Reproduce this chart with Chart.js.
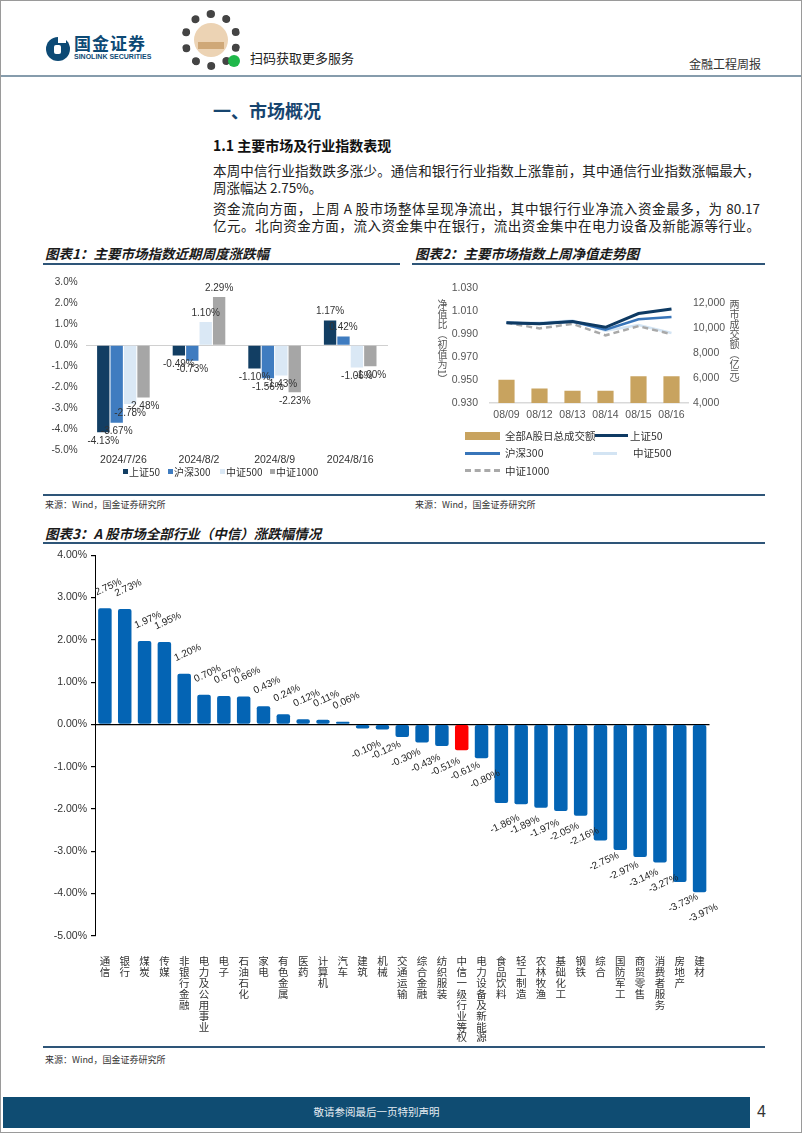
<!DOCTYPE html>
<html>
<head>
<meta charset="utf-8">
<script src="https://cdn.jsdelivr.net/npm/chart.js@4.4.1/dist/chart.umd.min.js"></script>
<style>
html,body{margin:0;padding:0;background:#fff;}
#page{position:relative;width:802px;height:1133px;overflow:hidden;font-family:'Noto Sans CJK SC',sans-serif;color:#222;}
.abs{position:absolute;white-space:nowrap;}
.frame{position:absolute;left:0;top:0;width:800px;height:1131px;border:1px solid #9a9a9a;pointer-events:none;}
.para{position:absolute;left:213px;width:547px;font-size:13.5px;line-height:17px;height:17px;white-space:nowrap;color:#222;}
.just{text-align:justify;text-align-last:justify;}
.ctitle{position:absolute;font-size:13.5px;font-weight:bold;font-style:italic;line-height:18px;color:#1a1a1a;white-space:nowrap;}
.rule{position:absolute;height:2px;background:#2e5578;}
.src{position:absolute;font-size:9px;line-height:12px;color:#333;white-space:nowrap;}
.lg{position:absolute;font-size:10.5px;line-height:14px;color:#333;white-space:nowrap;}
.lg1{position:absolute;font-size:10px;line-height:13px;color:#333;white-space:nowrap;}
.box1{position:absolute;width:5px;height:5px;}
.vt{position:absolute;writing-mode:vertical-rl;font-size:10px;line-height:12px;color:#555;}
canvas{position:absolute;}
</style>
</head>
<body>
<div id="page">
  <!-- header -->
  <svg class="abs" style="left:45px;top:36px" width="26" height="26" viewBox="0 0 26 26">
    <circle cx="13" cy="13" r="12" fill="#0d4a75"/>
    <rect x="13" y="0" width="8" height="7" fill="#fff"/>
    <rect x="9" y="9" width="7" height="9" rx="2" fill="#fff"/>
  </svg>
  <div class="abs" style="left:74px;top:33px;font-size:17px;font-weight:bold;color:#0d4a75;letter-spacing:1px;line-height:20px">国金证券</div>
  <div class="abs" style="left:74px;top:52px;font-size:7px;font-weight:bold;color:#0d4a75;font-family:'Liberation Sans',sans-serif;line-height:9px">SINOLINK SECURITIES</div>
  <div class="abs" style="left:181px;top:10px;width:44px;height:44px;border-radius:50%;border:8px dotted #444;"></div>
  <div class="abs" style="left:194px;top:23px;width:34px;height:34px;border-radius:50%;background:#ecd3b4;"></div>
  <div class="abs" style="left:198px;top:42px;width:26px;height:7px;background:#cfa878;"></div>
  <div class="abs" style="left:228px;top:55px;width:12px;height:12px;border-radius:50%;background:#1fb84a;"></div>
  <div class="abs" style="left:250px;top:49px;font-size:13px;line-height:17px;color:#222">扫码获取更多服务</div>
  <div class="abs" style="left:689px;top:56px;font-size:12px;line-height:15px;color:#333">金融工程周报</div>
  <div class="abs" style="left:0;top:75px;width:802px;height:2px;background:#869cac"></div>

  <div class="abs" style="left:213px;top:98px;font-size:18px;font-weight:bold;line-height:24px;color:#17456f">一、市场概况</div>
  <div class="abs" style="left:213px;top:136px;font-size:14px;font-weight:bold;line-height:18px;color:#111">1.1 主要市场及行业指数表现</div>
  <div class="para just" style="top:161.5px">本周中信行业指数跌多涨少。通信和银行行业指数上涨靠前，其中通信行业指数涨幅最大，</div>
  <div class="para" style="top:178.5px">周涨幅达 2.75%。</div>
  <div class="para just" style="top:199.5px">资金流向方面，上周 A 股市场整体呈现净流出，其中银行行业净流入资金最多，为 80.17</div>
  <div class="para just" style="top:216.5px">亿元。北向资金方面，流入资金集中在银行，流出资金集中在电力设备及新能源等行业。</div>

  <!-- chart titles -->
  <div class="ctitle" style="left:45px;top:244px">图表1：主要市场指数近期周度涨跌幅</div>
  <div class="rule" style="left:43px;top:263px;width:357px"></div>
  <div class="ctitle" style="left:415px;top:244px">图表2：主要市场指数上周净值走势图</div>
  <div class="rule" style="left:412px;top:263px;width:353px"></div>

  <canvas id="c1" width="360" height="200" style="left:40px;top:268px"></canvas>
  <div id="legend1"></div>
  <canvas id="c2" width="360" height="155" style="left:410px;top:270px"></canvas>

  <div class="vt" style="left:436px;top:299px">净值比（初值为1）</div>
  <div class="vt" style="left:728px;top:299px">两市成交额（亿元）</div>

  <!-- chart 2 legend -->
  <div class="abs" style="left:465px;top:432px;width:35px;height:8px;background:#c8a35f"></div>
  <div class="lg" style="left:505px;top:429px">全部A股日总成交额</div>
  <div class="abs" style="left:595px;top:434px;width:33px;height:3px;background:#0e3a63"></div>
  <div class="lg" style="left:630px;top:429px">上证50</div>
  <div class="abs" style="left:465px;top:452px;width:35px;height:3px;background:#3875b9"></div>
  <div class="lg" style="left:505px;top:446px">沪深300</div>
  <div class="abs" style="left:593px;top:452px;width:24px;height:3px;background:#d3e4f3"></div>
  <div class="lg" style="left:633px;top:446px">中证500</div>
  <div class="abs" style="left:465px;top:469px;width:35px;height:0;border-top:3px dashed #a9a9a9"></div>
  <div class="lg" style="left:505px;top:464px">中证1000</div>

  <div class="abs" style="left:43px;top:494px;width:722px;height:2px;background:#2e5578"></div>
  <div class="src" style="left:45px;top:499px">来源：Wind，国金证券研究所</div>
  <div class="src" style="left:415px;top:499px">来源：Wind，国金证券研究所</div>

  <div class="ctitle" style="left:45px;top:524px">图表3：A 股市场全部行业（中信）涨跌幅情况</div>
  <div class="rule" style="left:43px;top:542px;width:722px"></div>

  <div class="rule" style="left:43px;top:1046px;width:722px"></div>
  <canvas id="c3" width="730" height="503" style="left:40px;top:545px"></canvas>
  <div class="src" style="left:45px;top:1054px">来源：Wind，国金证券研究所</div>

  <div class="abs" style="left:3px;top:1097px;width:747px;height:31px;background:#0f4c72"></div>
  <div class="abs" style="left:3px;top:1105px;width:747px;text-align:center;font-size:10.5px;line-height:14px;color:#e6edf2">敬请参阅最后一页特别声明</div>
  <div class="abs" style="left:757px;top:1102px;font-size:16px;line-height:20px;color:#333;font-family:'Liberation Sans',sans-serif">4</div>
  <div class="frame"></div>
</div>

<script>
// ---------- data ----------
const weeks = ['2024/7/26', '2024/8/2', '2024/8/9', '2024/8/16'];
const weekSeries = ['上证50', '沪深300', '中证500', '中证1000'];
const sz50Week = [-4.13, -0.49, -1.10, 1.17];
const hs300Week = [-3.67, -0.73, -1.56, 0.42];
const zz500Week = [-2.78, 1.10, -1.43, -1.06];
const zz1000Week = [-2.48, 2.29, -2.23, -1.00];

const days = ['08/09', '08/12', '08/13', '08/14', '08/15', '08/16'];
const turnover = [5850, 5150, 4970, 4970, 6130, 6130];
const nav50 = [1.000, 0.999, 1.001, 0.996, 1.008, 1.012];
const nav300 = [1.000, 0.999, 1.001, 0.994, 1.003, 1.005];
const nav500 = [1.000, 1.000, 1.002, 0.993, 0.998, 0.991];
const nav1000 = [1.000, 0.995, 0.999, 0.989, 0.997, 0.990];
const turnoverTicks = [4000, 6000, 8000, 10000, 12000];

const industries = ['通信', '银行', '煤炭', '传媒', '非银行金融', '电力及公用事业', '电子', '石油石化', '家电', '有色金属', '医药', '计算机', '汽车', '建筑', '机械', '交通运输', '综合金融', '纺织服装', '中信一级行业等权', '电力设备及新能源', '食品饮料', '轻工制造', '农林牧渔', '基础化工', '钢铁', '综合', '国防军工', '商贸零售', '消费者服务', '房地产', '建材'];
const industryChange = [2.75, 2.73, 1.97, 1.95, 1.20, 0.70, 0.67, 0.66, 0.43, 0.24, 0.12, 0.11, 0.06, -0.10, -0.12, -0.30, -0.43, -0.51, -0.61, -0.80, -1.86, -1.89, -1.97, -2.05, -2.16, -2.75, -2.97, -3.14, -3.27, -3.73, -3.97];
const benchmarkName = '中信一级行业等权';

// ---------- helpers ----------
Chart.defaults.font.family = "'Liberation Sans','Noto Sans CJK SC',sans-serif";
Chart.defaults.animation = false;

function makeBarLabels(cfg) {
  return {
    id: 'barLabels' + cfg.key,
    afterDatasetsDraw(chart) {
      const ctx = chart.ctx;
      chart.data.datasets.forEach((ds, di) => {
        const meta = chart.getDatasetMeta(di);
        if (meta.type !== 'bar' || meta.hidden) return;
        meta.data.forEach((el, i) => {
          const v = ds.data[i];
          const neg = v < 0;
          ctx.save();
          ctx.translate(el.x + cfg.dx, el.y + (neg ? cfg.offset : -cfg.offset));
          ctx.rotate(cfg.rotation * Math.PI / 180);
          ctx.font = cfg.font;
          ctx.fillStyle = cfg.color;
          ctx.textAlign = 'center';
          ctx.textBaseline = 'middle';
          ctx.fillText(v.toFixed(2) + '%', 0, 0);
          ctx.restore();
        });
      });
    }
  };
}

// ---------- chart 1 ----------
const weekColors = ['#123e63', '#3f7cc0', '#dae8f5', '#a6a6a6'];
const weekData = [sz50Week, hs300Week, zz500Week, zz1000Week];
new Chart(document.getElementById('c1'), {
  type: 'bar',
  data: {
    labels: weeks,
    datasets: weekSeries.map((name, k) => ({ label: name, data: weekData[k], backgroundColor: weekColors[k] }))
  },
  options: {
    responsive: false,
    layout: { padding: { top: 12.5, right: 12, left: 0, bottom: 0 } },
    datasets: { bar: { categoryPercentage: 0.71, barPercentage: 0.92, borderWidth: 0 } },
    plugins: { tooltip: { enabled: false }, legend: { display: false } },
    scales: {
      x: {
        grid: { display: false, drawTicks: false },
        border: { display: false },
        ticks: { padding: 3.3, color: '#333', font: { size: 10.5 }, maxRotation: 0 },
        afterFit: s => { s.height = 17.3; }
      },
      y: {
        min: -5, max: 3,
        ticks: { stepSize: 1, padding: 8, color: '#404040', font: { size: 10 }, callback: v => v.toFixed(1) + '%' },
        grid: { drawTicks: false, color: c => c.tick.value === 0 ? '#d0d0d0' : 'transparent' },
        border: { display: false },
        afterFit: s => { s.width = 45.6; }
      }
    }
  },
  plugins: [makeBarLabels({ key: 1, dx: 0, offset: 9, rotation: 0, font: "10px 'Liberation Sans','Noto Sans CJK SC',sans-serif", color: '#333' })]
});
// HTML legend for chart 1 (built from the series names/colours)
const legendX1 = [123, 168, 220, 270];
const lg1 = document.getElementById('legend1');
weekSeries.forEach((name, k) => {
  const b = document.createElement('div');
  b.className = 'box1';
  b.style.left = legendX1[k] + 'px'; b.style.top = '469px'; b.style.background = weekColors[k];
  const t = document.createElement('div');
  t.className = 'lg1';
  t.style.left = (legendX1[k] + 6) + 'px'; t.style.top = '465px';
  t.textContent = name;
  lg1.appendChild(b); lg1.appendChild(t);
});

// ---------- chart 2 ----------
new Chart(document.getElementById('c2'), {
  data: {
    labels: days,
    datasets: [
      { type: 'line', label: '上证50', data: nav50, borderColor: '#0e3a63', borderWidth: 3, pointRadius: 0, tension: 0, yAxisID: 'y', order: 1 },
      { type: 'line', label: '沪深300', data: nav300, borderColor: '#3875b9', borderWidth: 2.5, pointRadius: 0, tension: 0, yAxisID: 'y', order: 2 },
      { type: 'line', label: '中证1000', data: nav1000, borderColor: '#a9a9a9', borderWidth: 2.5, borderDash: [6, 4], pointRadius: 0, tension: 0, yAxisID: 'y', order: 3 },
      { type: 'line', label: '中证500', data: nav500, borderColor: '#d3e4f3', borderWidth: 2.5, pointRadius: 0, tension: 0, yAxisID: 'y', order: 4 },
      { type: 'bar', label: '全部A股日总成交额', data: turnover, backgroundColor: '#c8a35f', yAxisID: 'y1', order: 10, categoryPercentage: 1, barPercentage: 0.49 }
    ]
  },
  options: {
    responsive: false,
    layout: { padding: { top: 15, right: 0, left: 0, bottom: 0 } },
    plugins: { legend: { display: false }, tooltip: { enabled: false } },
    scales: {
      x: {
        grid: { display: false, drawTicks: false },
        border: { display: true, color: '#d9d9d9', width: 1.5 },
        ticks: { padding: 6, color: '#555', font: { size: 10.5 }, maxRotation: 0 },
        afterFit: s => { s.height = 22; }
      },
      y: {
        position: 'left',
        min: 0.93, max: 1.03,
        ticks: { stepSize: 0.02, padding: 12, color: '#555', font: { size: 10.5 }, callback: v => v.toFixed(3) },
        grid: { display: false, drawTicks: false },
        border: { display: false },
        afterFit: s => { s.width = 80; }
      },
      y1: {
        position: 'right',
        min: 4000, max: 13165,
        afterBuildTicks: s => { s.ticks = turnoverTicks.map(v => ({ value: v })); },
        ticks: { padding: 5, color: '#555', font: { size: 10.5 }, callback: v => v.toLocaleString('en-US') },
        grid: { display: false, drawTicks: false },
        border: { display: false },
        afterFit: s => { s.width = 82; }
      }
    }
  }
});

// ---------- chart 3 ----------
new Chart(document.getElementById('c3'), {
  type: 'bar',
  data: {
    labels: industries.map(s => s.split('')),
    datasets: [{
      label: '涨跌幅',
      data: industryChange,
      backgroundColor: industries.map(n => n === benchmarkName ? '#ff0000' : '#0464b4'),
      borderRadius: 2,
      borderSkipped: false,
      categoryPercentage: 0.68,
      barPercentage: 1
    }]
  },
  options: {
    responsive: false,
    layout: { padding: { top: 5.5, right: 60.5, left: 0, bottom: 0 } },
    plugins: { legend: { display: false }, tooltip: { enabled: false } },
    scales: {
      x: {
        grid: { display: false, drawTicks: false },
        border: { display: false },
        ticks: { autoSkip: false, maxRotation: 0, minRotation: 0, padding: 21, color: '#333', font: { size: 10.5, lineHeight: 1.04 } },
        afterFit: s => { s.height = 112.3; }
      },
      y: {
        min: -5, max: 4,
        ticks: { stepSize: 1, padding: 4, color: '#333', font: { size: 10.5 }, callback: v => v.toFixed(2) + '%' },
        grid: { tickLength: 4, tickColor: '#000', color: c => c.tick.value === 0 ? '#000' : 'transparent', lineWidth: 1.2 },
        border: { display: true, color: '#000', width: 1 },
        afterFit: s => { s.width = 55; }
      }
    }
  },
  plugins: [makeBarLabels({ key: 3, dx: 3.5, offset: 21, rotation: -25, font: "10px 'Liberation Sans','Noto Sans CJK SC',sans-serif", color: '#222' })]
});
</script>
</body>
</html>
